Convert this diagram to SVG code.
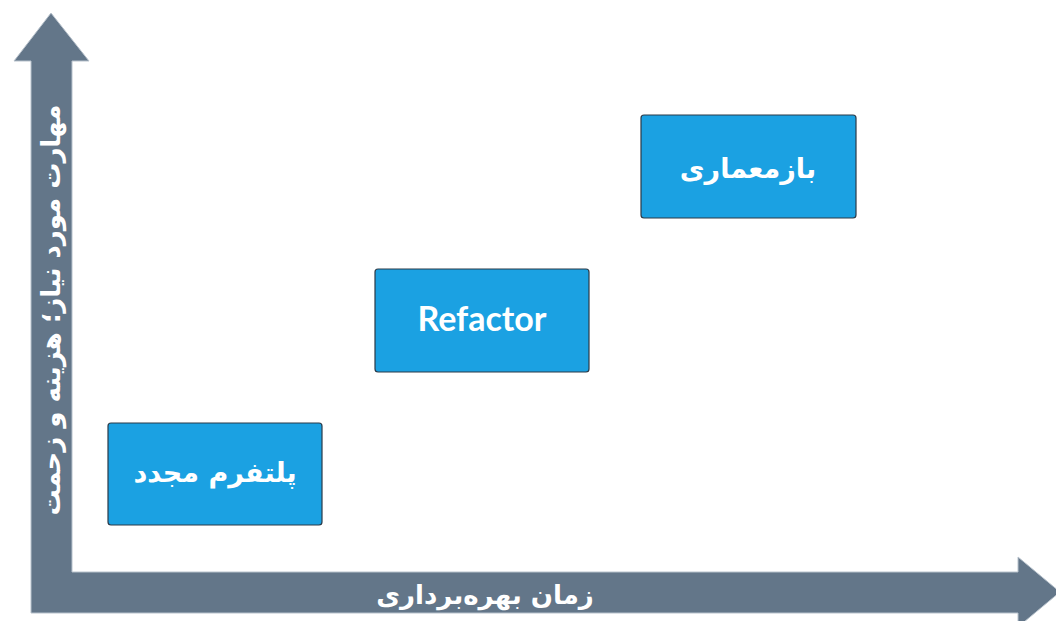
<svg xmlns="http://www.w3.org/2000/svg" width="1056" height="621" viewBox="0 0 1056 621">
<style>
.ax{fill:#637689;stroke:#b8c2cc;stroke-width:1}
.box{fill:#1ba1e2;stroke:#2b3a48;stroke-width:1.2}
.t{fill:#fff;font-family:"DejaVu Sans","Noto Sans",sans-serif;font-weight:bold;text-anchor:middle;dominant-baseline:central}
.lat{font-family:Lato,"Open Sans",sans-serif}
</style>
<rect width="1056" height="621" fill="#fff"/>
<g id="axes">
<polygon class="ax" points="31,613 31,61 14,61 51,13 89,61 72,61 72,572 1018,572 1018,557 1060,592 1018,627 1018,613"/>
<text class="t" x="0" y="0" font-size="26" transform="translate(51,310) rotate(-90)" direction="rtl">مهارت مورد نیاز؛ هزینه و زحمت</text>
<text class="t" x="485" y="595" font-size="26" direction="rtl">زمان بهره‌برداری</text>
</g>
<g id="n1"><rect class="box" x="108" y="423" width="214" height="102" rx="3"/><text class="t" x="215" y="472" font-size="27" direction="rtl">پلتفرم مجدد</text></g>
<g id="n2"><rect class="box" x="375" y="269" width="214" height="103" rx="3"/><text class="t lat" x="482" y="317" font-size="34">Refactor</text></g>
<g id="n3"><rect class="box" x="641" y="115" width="215" height="103" rx="3"/><text class="t" x="748" y="168" font-size="27" direction="rtl">بازمعماری</text></g>
</svg>
